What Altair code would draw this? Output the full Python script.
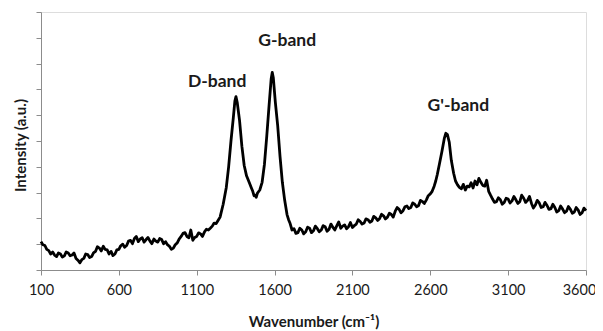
import altair as alt
import pandas as pd

wavenumber = [100,112,125,137,150,162,175,187,200,212,225,237,250,262,275,287,300,312,325,337,350,362,375,387,400,412,425,437,450,462,475,487,500,512,525,537,550,562,575,587,
              600,612,625,637,650,662,675,687,700,712,725,737,750,762,775,787,800,812,825,837,850,862,875,887,900,912,925,937,950,962,975,987,1000,1012,1025,1037,1050,1062,1075,1087,
              1100,1112,1125,1137,1150,1162,1175,1187,1200,1212,1225,1237,1250,1270,1290,1305,1320,1335,1345,1352,1360,1375,1390,
              1405,1420,1440,1450,1460,1468,1475,1482,1490,1505,1520,1535,1550,1565,1578,1585,1592,1605,1620,1635,
              1650,1665,1680,1690,1700,1712,1725,1737,1750,1762,1775,1787,1800,1812,1825,1837,1850,1862,1875,1887,1900,1912,1925,1937,1950,1962,1975,1987,2000,2012,2025,
              2037,2050,2062,2075,2087,2100,2112,2125,2137,2150,2162,2175,2187,2200,2212,2225,2237,2250,2262,2275,2287,2300,2312,2325,2337,2350,2362,2375,2387,2400,2412,2425,2437,2450,
              2462,2475,2487,2500,2512,2525,2537,2550,2562,2575,2587,2600,2612,2625,2635,2645,2660,2675,2690,2700,2710,2722,2735,2750,2762,2775,
              2787,2800,2812,2825,2837,2850,2862,2875,2887,2900,2912,2925,2937,2950,2962,2975,2987,3000,3012,3025,3037,3050,3062,3075,3087,3100,3112,3125,3137,3150,3162,3175,3187,3200,
              3212,3225,3237,3250,3262,3275,3287,3300,3312,3325,3337,3350,3362,3375,3387,3400,3412,3425,3437,3450,3462,3475,3487,3500,3512,3525,3537,3550,3562,3575,3587,3600]
intensity = [1.10,0.98,0.95,0.80,0.75,0.62,0.70,0.58,0.52,0.66,0.62,0.50,0.55,0.70,0.66,0.55,0.58,0.66,0.45,0.38,0.28,0.40,0.45,0.62,0.60,0.48,0.52,0.66,0.72,0.90,0.85,0.74,0.92,0.80,0.78,0.62,0.72,0.56,0.62,0.78,
             0.80,0.94,1.00,0.88,0.95,1.12,1.15,1.02,1.22,1.30,1.10,1.20,1.25,1.08,1.18,1.26,1.12,1.02,1.20,1.12,1.08,1.22,1.18,1.02,1.10,0.98,0.92,0.80,0.85,0.98,1.05,1.20,1.30,1.42,1.45,1.30,1.25,1.55,1.15,1.26,
             1.30,1.44,1.40,1.30,1.48,1.58,1.55,1.62,1.70,1.82,1.80,1.92,2.05,2.55,3.20,4.00,5.00,5.90,6.55,6.72,6.50,5.80,4.80,
             4.05,3.65,3.35,3.20,3.05,2.88,2.90,2.82,2.98,3.10,3.40,4.10,5.20,6.40,7.40,7.66,7.45,6.50,5.60,4.40,
             3.40,2.70,2.15,1.95,1.80,1.55,1.60,1.42,1.45,1.62,1.55,1.40,1.48,1.66,1.62,1.45,1.52,1.70,1.60,1.48,1.55,1.72,1.68,1.50,1.58,1.78,1.65,1.55,1.72,1.86,1.62,
             1.70,1.75,1.60,1.68,1.84,1.65,1.72,1.78,1.95,1.88,1.78,1.82,1.98,1.95,1.85,1.90,2.08,2.02,1.92,2.00,2.16,2.10,1.98,2.05,2.20,2.15,2.05,2.28,2.42,2.35,2.22,2.30,2.45,2.48,
             2.38,2.42,2.60,2.55,2.45,2.50,2.70,2.65,2.58,2.72,2.88,2.95,3.05,3.25,3.45,3.70,4.15,4.60,5.10,5.30,5.25,4.95,4.25,3.75,3.45,3.30,
             3.20,3.15,3.32,3.10,3.25,3.22,3.38,3.18,3.45,3.30,3.55,3.40,3.28,3.25,3.48,3.05,2.90,2.75,2.62,2.65,2.80,2.72,2.55,2.62,2.78,2.75,2.60,2.68,2.85,2.72,2.58,2.65,2.90,2.78,
             2.62,2.70,2.85,2.58,2.40,2.52,2.70,2.60,2.42,2.45,2.62,2.50,2.35,2.38,2.55,2.42,2.25,2.30,2.48,2.36,2.22,2.28,2.46,2.35,2.20,2.25,2.42,2.32,2.15,2.22,2.40,2.30]

label_text = ["D-band", "G-band", "G'-band"]
label_x = [1231, 1681, 2780]
label_y = [7.28, 8.89, 6.36]

x_ticks = [100, 600, 1100, 1600, 2100, 2600, 3100, 3600]
y_ticks = [0, 1, 2, 3, 4, 5, 6, 7, 8, 9, 10]

df = pd.DataFrame({"wn": wavenumber, "I": intensity})
lab = pd.DataFrame({"t": label_text, "x": label_x, "y": label_y})

FONT = "Lato"
GRAY = "#8c8c8c"

xscale = alt.Scale(domain=[100, 3600], nice=False, zero=False)
yscale = alt.Scale(domain=[0, 10], nice=False)

line = alt.Chart(df).mark_line(color="black", strokeWidth=2.8, strokeJoin="round").encode(
    x=alt.X("wn:Q", scale=xscale,
            axis=alt.Axis(title="Wavenumber (cm⁻¹)", values=x_ticks, tickCount=20, format="d", grid=False,
                          domainColor=GRAY, tickColor=GRAY, tickSize=5, labelOverlap=False,
                          labelFlush=False,
                          labelOffset={"condition": {"test": "datum.value == 3600", "value": -7}, "value": 0},
                          labelFont=FONT, labelFontSize=14.5, labelColor="#1a1a1a",
                          labelPadding=8, titleFont=FONT, titleFontSize=15, titleFontWeight="bold",
                          titleColor="#1a1a1a", titleY=51, titleBaseline="middle")),
    y=alt.Y("I:Q", scale=yscale,
            axis=alt.Axis(title="Intensity (a.u.)", values=y_ticks, tickCount=20, labels=False,
                          labelOverlap=False,
                          grid=False, domainColor=GRAY, tickColor=GRAY, tickSize=5,
                          titleFont=FONT, titleFontSize=15, titleFontWeight="bold",
                          titleColor="#1a1a1a", titleX=-21, titleY=133, titleBaseline="middle",
                          titleAlign="center", titleAngle=-90))
)

text = alt.Chart(lab).mark_text(font=FONT, fontSize=17.5, fontWeight="bold", color="#1a1a1a",
                                baseline="middle", align="center").encode(
    x=alt.X("x:Q", scale=xscale), y=alt.Y("y:Q", scale=yscale), text="t:N")

chart = (line + text).properties(
    width=545, height=258,
    autosize=alt.AutoSizeParams(type="none"),
    padding={"left": 33, "top": 4, "right": 9, "bottom": 62},
).configure_view(stroke=None).configure(background="white")

chart.save("out.html", embed_options={"renderer": "svg", "actions": False})
